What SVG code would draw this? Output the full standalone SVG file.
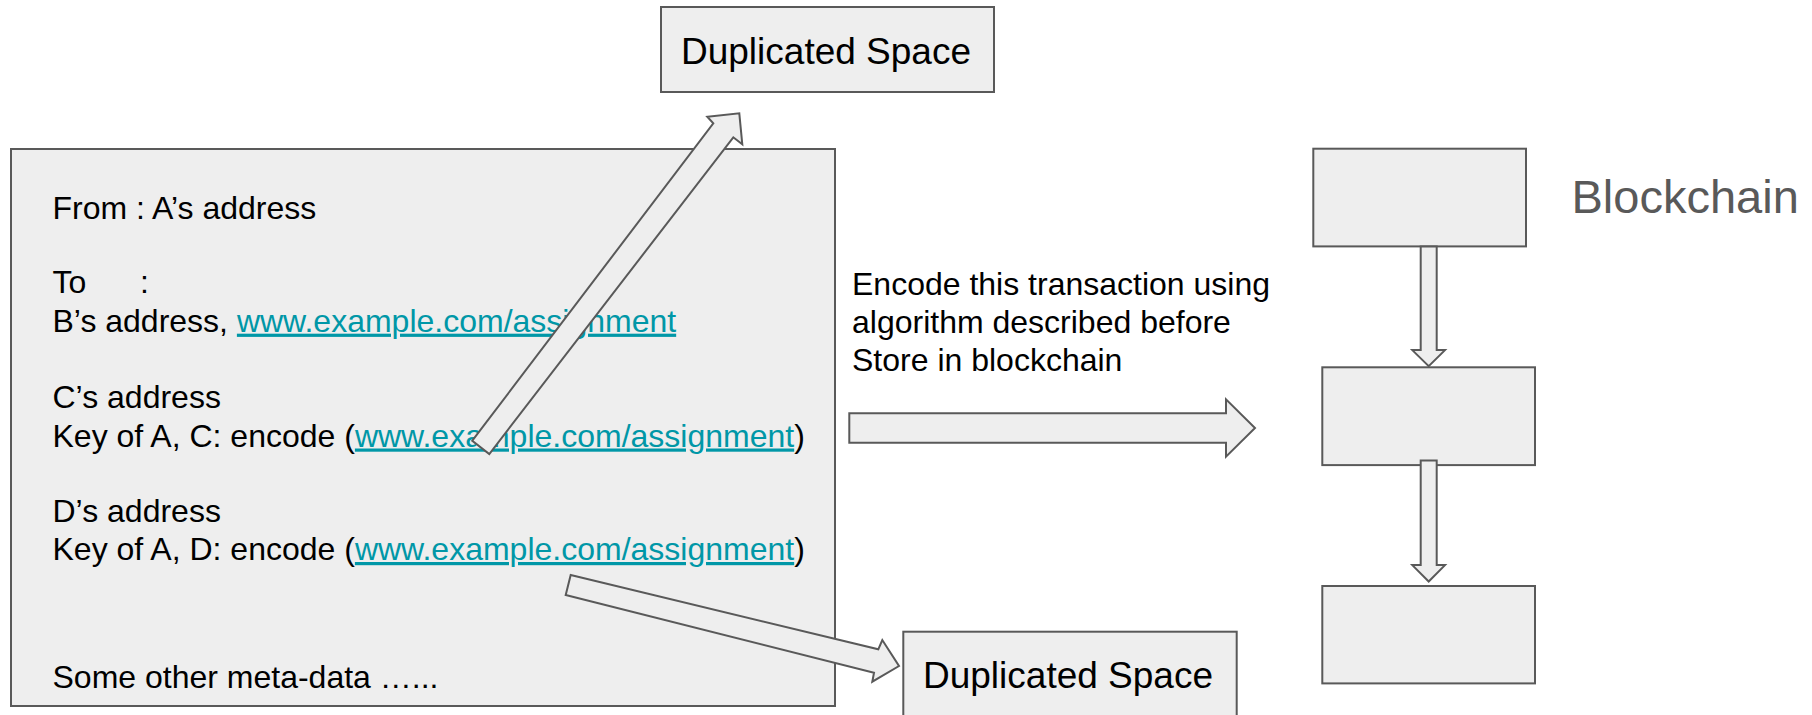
<svg xmlns="http://www.w3.org/2000/svg" width="1812" height="715" viewBox="0 0 1812 715">
<style>
.box{fill:#eeeeee;stroke:#595959;stroke-width:2}
.arr{fill:#eeeeee;stroke:#595959;stroke-width:2;stroke-linejoin:miter}
.t{font-family:"Liberation Sans",Arial,sans-serif;fill:#000000}
.main{font-size:32px}
.link{fill:#0097a7;text-decoration:underline}
.ds{font-size:37px}
.enc{font-size:32px}
.bc{font-family:"Liberation Sans",Arial,sans-serif;font-size:47px;fill:#595959}
</style>
<rect width="1812" height="715" fill="#ffffff"/>
<g id="dup-top">
<rect class="box" x="661" y="7" width="333" height="85"/>
<text class="t ds" x="826" y="63.5" text-anchor="middle">Duplicated Space</text>
</g>
<g id="transaction">
<rect class="box" x="11" y="149" width="824" height="557"/>
<text class="t main" x="52.5" y="218.5">From : A’s address</text>
<text class="t main" x="52.5" y="293.3">To<tspan x="140">:</tspan></text>
<text class="t main" x="52.5" y="331.7">B’s address, <tspan class="link">www.example.com/assignment</tspan></text>
<text class="t main" x="52.5" y="408">C’s address</text>
<text class="t main" x="52.5" y="446.5">Key of A, C: encode (<tspan class="link">www.example.com/assignment</tspan>)</text>
<text class="t main" x="52.5" y="521.7">D’s address</text>
<text class="t main" x="52.5" y="560">Key of A, D: encode (<tspan class="link">www.example.com/assignment</tspan>)</text>
<text class="t main" x="52.5" y="688.3">Some other meta-data …...</text>
</g>
<g id="encode-label">
<text class="t enc" x="852" y="295">Encode this transaction using</text>
<text class="t enc" x="852" y="332.7">algorithm described before</text>
<text class="t enc" x="852" y="370.5">Store in blockchain</text>
</g>
<g id="block1"><rect class="box" x="1313.3" y="148.7" width="212.7" height="97.7"/></g>
<g id="block2"><rect class="box" x="1322.3" y="367.3" width="212.7" height="97.8"/></g>
<g id="block3"><rect class="box" x="1322.3" y="586" width="212.7" height="97.4"/></g>
<g id="blockchain-label"><text class="bc" x="1571.5" y="212.7">Blockchain</text></g>
<g id="dup-bottom">
<rect class="box" x="903.3" y="631.7" width="333.4" height="100"/>
<text class="t ds" x="1068" y="687.7" text-anchor="middle">Duplicated Space</text>
</g>
<g id="connectors">
<polygon class="arr" points="472.3,440.7 713.3,123.3 707.3,116.7 739.3,113.3 742.3,144.3 733.3,137.3 489.3,454"/>
<polygon class="arr" points="570.7,575 878.3,649.3 882.3,640 899,666 872.3,681.7 874,672.7 565.7,595"/>
<polygon class="arr" points="849.3,413.3 1226,413.3 1226,399.3 1255,428 1226,456.7 1226,442.7 849.3,442.7"/>
<polygon class="arr" points="1420.7,246.4 1436.7,246.4 1436.7,350.1 1445,350.1 1428.7,366.2 1412.3,350.1 1420.7,350.1"/>
<polygon class="arr" points="1420.7,460.6 1436.7,460.6 1436.7,565.1 1445,565.1 1428.7,581.5 1412.3,565.1 1420.7,565.1"/>
</g>
</svg>
